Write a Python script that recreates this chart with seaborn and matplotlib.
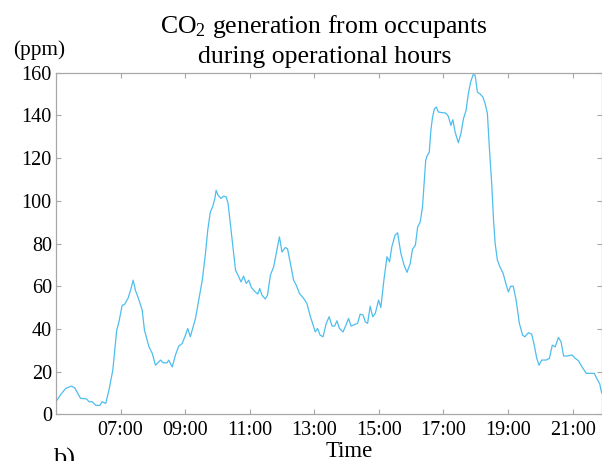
import matplotlib
matplotlib.use("Agg")
import matplotlib.pyplot as plt
import seaborn as sns
import pandas as pd

# Time of day (decimal hours) and CO2 generation (ppm)
hours = [5.00, 5.14, 5.30, 5.48, 5.58, 5.76, 5.95, 6.02, 6.12, 6.23, 6.36, 6.43, 6.54, 6.64, 6.76,
         6.88, 6.95, 7.05, 7.12, 7.23, 7.31, 7.39, 7.46, 7.57, 7.67, 7.74, 7.88, 7.98, 8.08, 8.15,
         8.24, 8.32, 8.44, 8.49, 8.60, 8.70, 8.80, 8.91, 9.01, 9.08, 9.16, 9.32, 9.42, 9.53, 9.63,
         9.70, 9.78, 9.85, 9.92, 9.96, 10.02, 10.11, 10.19, 10.27, 10.33, 10.40, 10.48, 10.56, 10.66,
         10.73, 10.81, 10.89, 10.97, 11.05, 11.14, 11.25, 11.31, 11.38, 11.48, 11.55, 11.64, 11.74,
         11.85, 11.92, 12.00, 12.10, 12.17, 12.26, 12.36, 12.44, 12.54, 12.67, 12.77, 12.88, 13.03,
         13.10, 13.18, 13.27, 13.37, 13.46, 13.55, 13.63, 13.70, 13.78, 13.89, 13.98, 14.06, 14.14,
         14.27, 14.34, 14.42, 14.51, 14.58, 14.65, 14.73, 14.81, 14.89, 14.99, 15.06, 15.16, 15.25,
         15.33, 15.40, 15.50, 15.58, 15.68, 15.78, 15.87, 15.97, 16.04, 16.13, 16.20, 16.28, 16.35,
         16.40, 16.45, 16.50, 16.56, 16.61, 16.66, 16.72, 16.78, 16.84, 16.95, 17.07, 17.15, 17.23,
         17.29, 17.36, 17.46, 17.54, 17.62, 17.70, 17.77, 17.84, 17.92, 17.98, 18.05, 18.13, 18.22,
         18.29, 18.36, 18.42, 18.50, 18.55, 18.60, 18.67, 18.75, 18.85, 18.93, 19.01, 19.08, 19.16,
         19.25, 19.35, 19.45, 19.52, 19.63, 19.73, 19.80, 19.89, 19.96, 20.04, 20.18, 20.28, 20.37,
         20.46, 20.56, 20.64, 20.72, 20.82, 20.98, 21.08, 21.18, 21.29, 21.42, 21.55, 21.67, 21.76,
         21.84, 21.90]
co2_ppm = [5.9, 9.1, 12.1, 13.2, 12.4, 7.5, 7.2, 5.9, 5.9, 4.2, 4.2, 5.9, 5.1, 11.3, 20.7,
           39.4, 43.3, 51.1, 51.4, 54.3, 58.1, 62.8, 58.1, 53.5, 48.8, 39.4, 31.6, 28.6, 23.0, 24.1,
           25.4, 24.1, 24.1, 25.4, 22.2, 27.8, 31.9, 33.2, 37.1, 40.2, 36.3, 44.9, 53.5, 62.8, 75.4,
           86.3, 94.8, 97.1, 101.1, 104.9, 102.6, 101.1, 102.2, 101.8, 98.7, 89.3, 78.4, 67.5, 64.4,
           62.0, 64.7, 61.3, 62.8, 59.4, 57.8, 56.3, 58.9, 55.8, 54.0, 55.8, 65.2, 69.0,
           77.6, 83.1, 76.0, 78.1, 77.6, 70.6, 62.8, 60.5, 56.6, 54.3, 51.9, 45.7, 38.6,
           40.2, 37.1, 36.3, 42.6, 45.7, 41.3, 41.3, 43.8, 40.2, 38.6, 41.8, 44.9, 41.3,
           42.2, 42.6, 46.9, 46.5, 43.3, 42.6, 50.6, 45.7, 47.3, 53.5, 50.0, 63.5, 73.8,
           71.4, 78.4, 83.9, 85.0, 75.4, 69.9, 66.5, 70.6, 77.3, 79.2, 87.7, 90.1, 97.1,
           108.1, 119.0, 121.3, 122.8, 133.0, 139.1, 143.1, 143.9, 141.6, 141.3, 141.1, 139.6, 135.3,
           138.0, 132.2, 127.2, 131.5, 138.5, 142.4, 150.2, 155.6, 159.1, 158.8, 150.9, 150.1, 148.6,
           145.5, 140.9, 125.2, 106.4, 90.9, 80.0, 72.2, 69.0, 65.9, 61.3, 57.3, 60.0, 60.0,
           53.5, 42.6, 37.1, 36.3, 38.2, 37.6, 33.2, 26.2, 23.0, 25.4, 25.4, 26.2, 32.4,
           31.6, 36.0, 34.0, 27.3, 27.3, 27.8, 26.2, 25.1, 22.2, 19.2, 19.2, 19.2, 16.4,
           14.2, 9.9]

tick_hours = [7, 9, 11, 13, 15, 17, 19, 21]
tick_labels = ["07:00", "09:00", "11:00", "13:00", "15:00", "17:00", "19:00", "21:00"]
y_ticks = [0, 20, 40, 60, 80, 100, 120, 140, 160]

sns.set_theme(style="white")
plt.rcParams["font.family"] = ["Liberation Serif", "DejaVu Serif"]
plt.rcParams["mathtext.fontset"] = "custom"
plt.rcParams["mathtext.rm"] = "Liberation Serif"
plt.rcParams["mathtext.it"] = "Liberation Serif:italic"
plt.rcParams["text.color"] = "black"

df = pd.DataFrame({"hour": hours, "co2": co2_ppm})

fig = plt.figure(figsize=(6.02, 4.61), dpi=100)
ax = fig.add_axes([0.0930, 0.1013, 0.9065, 0.7410])

sns.lineplot(data=df, x="hour", y="co2", ax=ax, color="#4DBEEE", linewidth=0.9)

ax.set_xlim(5.0, 21.9)
ax.set_ylim(0, 160)
ax.set_xticks(tick_hours)
ax.set_xticklabels(tick_labels)
ax.set_yticks(y_ticks)
ax.set_xlabel("")
ax.set_ylabel("")

spine_col = "#a8a8a8"
for s in ax.spines.values():
    s.set_visible(True)
    s.set_color(spine_col)
    s.set_linewidth(0.9)
ax.tick_params(axis="both", which="both", direction="in", length=3.5, width=0.8,
               color=spine_col, labelsize=14.5, labelcolor="black",
               top=True, right=True, bottom=True, left=True)
ax.tick_params(axis="x", pad=5)
ax.tick_params(axis="y", pad=3)
ax.grid(False)

fig.text(324 / 602, 1 - 33 / 461, r"CO$_2$ generation from occupants", ha="center",
         va="baseline", fontsize=18.5, color="black")
fig.text(325 / 602, 1 - 63 / 461, "during operational hours", ha="center",
         va="baseline", fontsize=18.5, color="black")
fig.text(39 / 602, 1 - 55 / 461, "(ppm)", ha="center", va="baseline", fontsize=15.3,
         color="black")
fig.text(349 / 602, 1 - 457 / 461, "Time", ha="center", va="baseline", fontsize=16.4,
         color="black")
fig.text(53 / 602, 1 - 448 / 461, "b)", ha="left", va="top", fontsize=19, color="black")

fig.savefig("out.png", dpi=100)
